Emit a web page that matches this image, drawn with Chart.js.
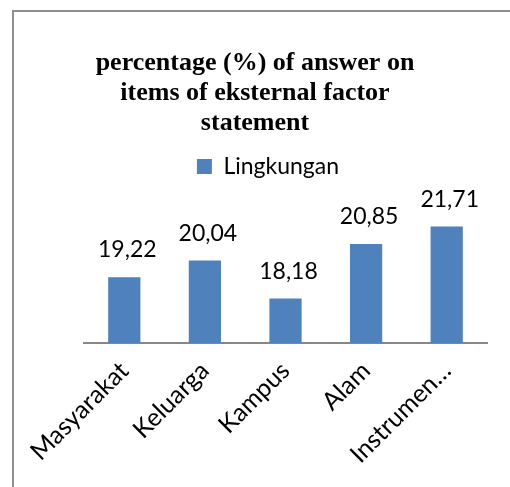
<!DOCTYPE html>
<html>
<head>
<meta charset="utf-8">
<script src="https://cdn.jsdelivr.net/npm/chart.js"></script>
<style>
  body { margin: 0; background: #fff; }
  #wrap { position: relative; width: 510px; height: 487px; }
  #frame {
    position: absolute; left: 12px; top: 10px; width: 498px; height: 477px;
    border-top: 2px solid #8f8f8f; border-left: 2px solid #8f8f8f;
    box-sizing: border-box; pointer-events: none;
  }
  canvas { position: absolute; left: 0; top: 0; }
</style>
</head>
<body>
<div id="wrap">
  <canvas id="factorChart" width="510" height="487"></canvas>
  <div id="frame"></div>
</div>
<script>
// ===== data =====
const categories = ['Masyarakat', 'Keluarga', 'Kampus', 'Alam', 'Instrumen\u2026'];
const seriesName = 'Lingkungan';
const lingkungan = [19.22, 20.04, 18.18, 20.85, 21.71];
const titleLines = ['percentage (%) of answer on', 'items of eksternal factor', 'statement'];

const sans = 'Lato, "Open Sans", sans-serif';

// value labels above the bars, comma decimals
const valueLabels = {
  id: 'valueLabels',
  afterDatasetsDraw(chart) {
    const ctx = chart.ctx;
    const meta = chart.getDatasetMeta(0);
    ctx.save();
    ctx.font = '23px ' + sans;
    ctx.fillStyle = '#000';
    ctx.textAlign = 'center';
    ctx.textBaseline = 'alphabetic';
    meta.data.forEach((bar, i) => {
      ctx.fillText(lingkungan[i].toFixed(2).replace('.', ','), bar.x + 3, bar.y - 20);
    });
    ctx.restore();
  }
};

// legend sits a little right of the title in the original
const legendNudge = {
  id: 'legendNudge',
  afterLayout(chart) {
    chart.legend.left += 26;
  }
};

const ctx = document.getElementById('factorChart');

new Chart(ctx, {
  type: 'bar',
  data: {
    labels: categories,
    datasets: [{
      label: seriesName,
      data: lingkungan,
      backgroundColor: '#4F81BD',
      borderWidth: 0,
      categoryPercentage: 1,
      barPercentage: 0.4
    }]
  },
  options: {
    responsive: false,
    animation: false,
    layout: { padding: 0 },
    plugins: {
      title: {
        display: true,
        text: titleLines,
        color: '#000',
        font: { family: '"Times New Roman", "Liberation Serif", serif', size: 26, weight: 'bold', lineHeight: 30 / 26 },
        padding: { top: 48, bottom: 0 }
      },
      legend: {
        display: true,
        labels: {
          color: '#000',
          font: { family: sans, size: 23 },
          boxWidth: 15,
          boxHeight: 15,
          padding: 17
        }
      },
      tooltip: { enabled: false }
    },
    scales: {
      x: {
        grid: { display: false },
        border: { display: true, color: '#878787', width: 2 },
        ticks: {
          color: '#000',
          font: { family: sans, size: 25 },
          minRotation: 45,
          maxRotation: 45,
          autoSkip: false,
          padding: 5
        },
        afterFit(scale) { scale.height = 144; }
      },
      y: {
        min: 16,
        max: 23.6,
        ticks: { display: false },
        grid: { display: false },
        border: { display: false },
        afterFit(scale) { scale.width = 84; }
      },
      y2: {
        type: 'linear',
        position: 'right',
        ticks: { display: false },
        grid: { display: false },
        border: { display: false },
        afterFit(scale) { scale.width = 23; }
      }
    }
  },
  plugins: [valueLabels, legendNudge]
});
</script>
</body>
</html>
